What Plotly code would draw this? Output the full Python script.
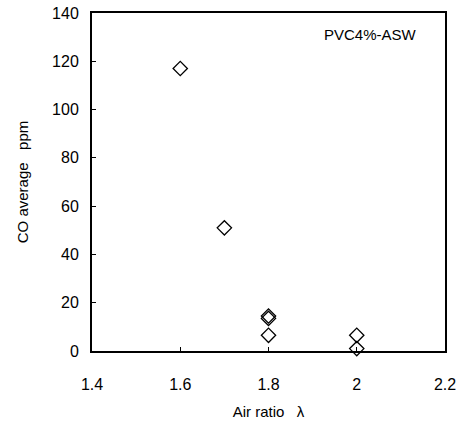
import plotly.graph_objects as go

# Air ratio (lambda) and average CO concentration (ppm)
air_ratio = [1.6, 1.7, 1.8, 1.8, 1.8, 2.0, 2.0]
co_average = [117, 51, 14.5, 13.5, 6.5, 6.5, 1]

x_ticks = [1.4, 1.6, 1.8, 2.0, 2.2]
x_tick_text = ["1.4", "1.6", "1.8", "2", "2.2"]
y_ticks = [0, 20, 40, 60, 80, 100, 120, 140]

font_family = "Liberation Sans, Arial, sans-serif"

fig = go.Figure()
fig.add_trace(go.Scatter(
    x=air_ratio, y=co_average, mode="markers",
    marker=dict(symbol="diamond-open", size=11, color="black",
                line=dict(width=1.3, color="black")),
    cliponaxis=False, showlegend=False,
))

fig.add_annotation(
    x=0.925, y=0.935, xref="paper", yref="paper",
    text="PVC4%-ASW", showarrow=False, xanchor="right", yanchor="middle",
    font=dict(size=15, color="black", family=font_family),
)

axis_common = dict(
    showline=True, linecolor="black", linewidth=2, mirror=True,
    ticks="inside", ticklen=4, tickwidth=1, tickcolor="black",
    showgrid=False, zeroline=False, automargin=False,
    tickfont=dict(size=16, color="black", family=font_family),
)

fig.update_layout(
    width=462, height=425,
    margin=dict(l=92, r=17, t=13, b=74),
    paper_bgcolor="white", plot_bgcolor="white",
    xaxis=dict(range=[1.4, 2.2], tickvals=x_ticks, ticktext=x_tick_text,
               ticklabelstandoff=18,
               title=dict(text="Air ratio   λ", standoff=14,
                          font=dict(size=15, color="black", family=font_family)),
               **axis_common),
    yaxis=dict(range=[0, 140], tickvals=y_ticks, ticklabelstandoff=8,
               title=dict(text="CO average   ppm", standoff=20,
                          font=dict(size=15, color="black", family=font_family)),
               **axis_common),
)

fig.write_html("out.html")
